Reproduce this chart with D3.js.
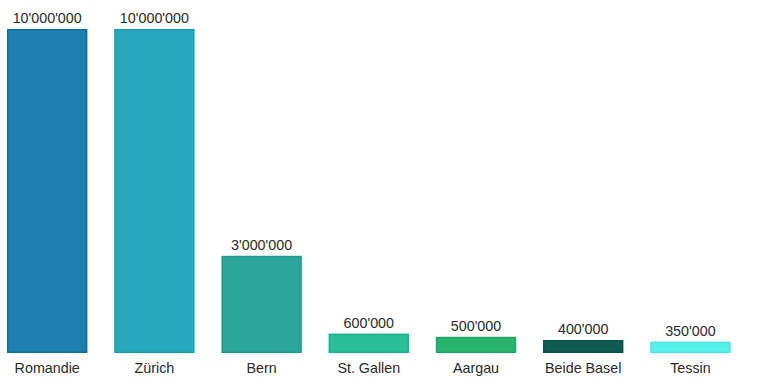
<!DOCTYPE html>
<html><head><meta charset="utf-8">
<script src="https://cdn.jsdelivr.net/npm/d3@7"></script>
<style>body{margin:0;background:#fff}svg{display:block}</style>
</head><body><svg id="c" width="760" height="387"></svg>
<script>
const categories = ["Romandie","Zürich","Bern","St. Gallen","Aargau","Beide Basel","Tessin"];
const values = [10000000,10000000,3000000,600000,500000,400000,350000];
const fills = ["#1f7fb0","#2aa8bb","#2ca69a","#2bbf98","#2ab36f","#0f5c52","#56f2ea"];
const strokes = ["#0e6f9f","#14a0b4","#1e9a8c","#19b28b","#1aa762","#0a4f46","#46e4dc"];

const svg = d3.select("#c");
const x = d3.scaleBand().domain(categories).range([7,730.6]).paddingInner(0.25).paddingOuter(0);
const y = d3.scaleLinear().domain([0,10000000]).range([353,29]);
const fmt = v => d3.format(",")(v).replace(/,/g,"'");
const FONT = "Liberation Sans, Arial, Helvetica, sans-serif";

const g = svg.append("g");
g.selectAll("rect").data(values).join("rect")
  .attr("x",(d,i)=>x(categories[i])+0.75)
  .attr("y",d=>y(d)+0.75)
  .attr("width",x.bandwidth()-1.5)
  .attr("height",d=>y(0)-y(d)-1.5)
  .attr("fill",(d,i)=>fills[i])
  .attr("stroke",(d,i)=>strokes[i])
  .attr("stroke-width",1.5);

g.selectAll("text.v").data(values).join("text").attr("class","v")
  .attr("x",(d,i)=>x(categories[i])+x.bandwidth()/2)
  .attr("y",d=>y(d)-6)
  .attr("text-anchor","middle")
  .attr("font-family",FONT)
  .attr("font-size",14.3).attr("fill","#2a2a2a")
  .text(fmt);

const ax = svg.append("g").attr("transform","translate(0,353)")
  .call(d3.axisBottom(x).tickSize(0).tickPadding(10));
ax.select(".domain").remove();
ax.selectAll("text").attr("font-family",FONT)
  .attr("font-size",14.3).attr("fill","#2a2a2a");
</script></body></html>
